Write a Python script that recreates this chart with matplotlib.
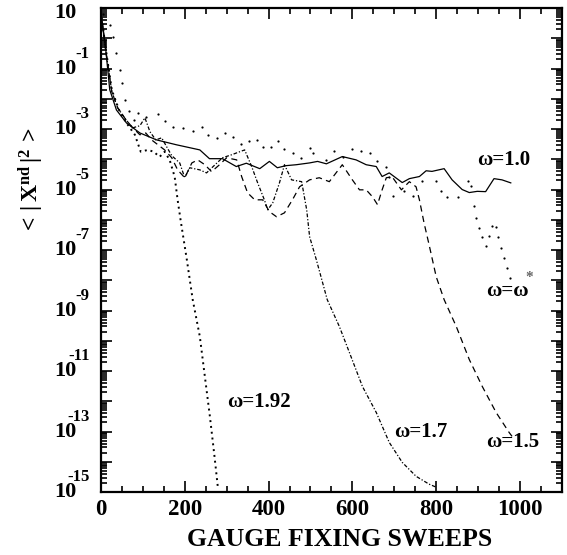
import numpy as np
import matplotlib
matplotlib.use("Agg")
import matplotlib.pyplot as plt
import matplotlib.transforms as mtransforms
from matplotlib.ticker import LogLocator, MultipleLocator, FuncFormatter, NullFormatter

plt.rcParams['font.family'] = ['Liberation Serif', 'DejaVu Serif']
plt.rcParams['font.weight'] = 'bold'
plt.rcParams['mathtext.fontset'] = 'custom'
plt.rcParams['mathtext.rm'] = 'Liberation Serif:bold'
plt.rcParams['mathtext.bf'] = 'Liberation Serif:bold'
plt.rcParams['mathtext.it'] = 'Liberation Serif:bold:italic'

# omega = 1.0 (solid), log10 of <|X^nd|^2>
x_10 = [0, 2, 10, 21, 37, 61, 93, 133, 180, 236, 259, 290, 323, 347, 379, 402, 421,
        442, 466, 498, 517, 538, 576, 609, 633, 657, 671, 688, 719, 736, 760, 776,
        790, 819, 838, 862, 879, 898, 918, 938, 957, 978]
lg_10 = [0.8, 0.6, -0.16, -1.7, -2.37, -2.8, -3.13, -3.36, -3.52, -3.69, -3.98, -3.98,
         -4.24, -4.13, -4.31, -4.07, -4.28, -4.21, -4.18, -4.12, -4.07, -4.15, -3.91,
         -4.02, -4.18, -4.24, -4.57, -4.45, -4.77, -4.64, -4.57, -4.38, -4.40, -4.31,
         -4.68, -5.0, -5.1, -5.06, -5.07, -4.64, -4.68, -4.78]

# omega = 1.5 (dashed)
x_15 = [0, 12, 26, 40, 60, 76, 93, 107, 121, 136, 152, 169, 183, 200, 217, 231, 248,
        264, 283, 300, 324, 336, 350, 367, 386, 402, 419, 438, 457, 474, 498, 521,
        545, 576, 600, 617, 633, 648, 660, 671, 681, 695, 717, 736, 752, 760, 771,
        783, 800, 819, 848, 879, 910, 943, 974, 981]
lg_15 = [0.87, -0.45, -1.77, -2.30, -2.70, -2.96, -3.19, -3.13, -3.36, -3.52, -3.69,
         -3.95, -4.35, -4.61, -4.12, -4.02, -4.18, -4.41, -4.18, -3.95, -4.02, -4.58,
         -5.11, -5.34, -5.34, -5.73, -5.90, -5.77, -5.34, -4.91, -4.68, -4.61, -4.74,
         -4.18, -4.68, -5.01, -5.01, -5.24, -5.50, -5.01, -4.61, -4.58, -5.01, -4.74,
         -4.91, -5.34, -6.10, -6.82, -7.88, -8.64, -9.53, -10.62, -11.51, -12.37,
         -13.03, -13.16]

# omega = 1.7 (dash-dot)
x_17 = [0, 12, 26, 40, 60, 76, 93, 105, 117, 131, 145, 157, 169, 188, 200, 212, 236,
        252, 267, 290, 312, 343, 360, 374, 390, 398, 410, 426, 438, 455, 479, 491,
        498, 514, 529, 540, 569, 593, 624, 657, 688, 719, 752, 783, 800]
lg_17 = [0.87, -0.45, -1.77, -2.30, -2.70, -2.96, -2.89, -2.63, -3.09, -3.36, -3.29,
         -3.59, -3.88, -4.12, -4.61, -4.28, -4.35, -4.45, -4.25, -3.95, -3.85, -3.69,
         -4.25, -4.78, -5.34, -5.67, -5.44, -4.78, -4.18, -4.68, -4.74, -5.67, -6.56,
         -7.32, -8.08, -8.64, -9.53, -10.39, -11.51, -12.37, -13.36, -14.02, -14.48,
         -14.74, -14.84]

# omega = 1.92 (dotted)
x_192 = [0, 12, 26, 45, 64, 81, 95, 112, 126, 140, 152, 164, 176, 183, 190, 205, 219,
         236, 248, 260, 271, 279]
lg_192 = [0.87, -0.39, -1.71, -2.43, -2.86, -3.19, -3.75, -3.69, -3.75, -3.92, -3.75,
          -4.02, -4.58, -5.34, -6.0, -7.32, -8.64, -9.86, -11.18, -12.50, -13.82, -14.84]

# omega = omega* (separate points)
x_st = [5, 21, 29, 36, 45, 51, 58, 68, 80, 89, 108, 136, 152, 172, 196, 220, 240, 256,
        276, 295, 315, 335, 353, 372, 386, 406, 422, 436, 458, 478, 498, 507, 537,
        557, 577, 598, 621, 642, 658, 680, 688, 696, 724, 744, 767, 799, 811, 827,
        851, 875, 883, 891, 895, 902, 910, 918, 926, 934, 942, 948, 954, 962, 970, 976]
lg_st = [0.8, 0.44, 0.05, -0.50, -1.05, -1.49, -2.04, -2.42, -2.70, -2.48, -2.59,
         -2.51, -2.75, -2.92, -2.97, -3.08, -2.92, -3.19, -3.30, -3.12, -3.25, -3.49,
         -3.38, -3.36, -3.60, -3.60, -3.38, -3.66, -3.80, -3.96, -3.63, -3.80, -4.02,
         -3.72, -3.93, -3.66, -3.74, -3.80, -4.07, -4.24, -4.57, -5.23, -5.06, -5.23,
         -4.73, -4.73, -5.06, -5.25, -5.25, -4.73, -4.87, -5.56, -5.94, -6.27, -6.58,
         -6.88, -6.55, -6.22, -6.24, -6.57, -6.93, -7.26, -7.59, -7.92]

# labelled decades on the y axis
y_label_exp = [1, -1, -3, -5, -7, -9, -11, -13, -15]

fig = plt.figure(figsize=(5.67, 5.55), dpi=100)
ax = fig.add_axes([0.178, 0.1135, 0.813, 0.872])

ax.plot(x_10, 10.0**np.array(lg_10), '-', color='k', lw=0.9)
ax.plot(x_15, 10.0**np.array(lg_15), color='k', lw=0.9, dashes=(5, 3.5))
ax.plot(x_17, 10.0**np.array(lg_17), color='k', lw=0.9, dashes=(3, 1.5, 1, 1.5))
ax.plot(x_192, 10.0**np.array(lg_192), color='k', lw=1.4, dashes=(1, 2))
ax.plot(x_st, 10.0**np.array(lg_st), 'o', color='k', ms=1.6, mew=0)

ax.set_yscale('log')
ax.set_xlim(0, 1100)
ax.set_ylim(1e-15, 1e1)

ax.xaxis.set_major_locator(MultipleLocator(200))
ax.xaxis.set_minor_locator(MultipleLocator(50))
ax.yaxis.set_major_locator(LogLocator(base=10, numticks=40))
ax.yaxis.set_minor_locator(LogLocator(base=10, subs=np.arange(2, 10), numticks=40))
ax.yaxis.set_major_formatter(NullFormatter())
ax.yaxis.set_minor_formatter(NullFormatter())
ax.xaxis.set_major_formatter(FuncFormatter(lambda v, p: '%d' % v))

# y tick labels drawn as "10" plus a raised exponent, old-style
trans = ax.get_yaxis_transform()
up = mtransforms.offset_copy(trans, fig=fig, x=0, y=15, units='dots')
top = mtransforms.offset_copy(trans, fig=fig, x=0, y=5, units='dots')
for e in y_label_exp:
    if e == 1:
        ax.text(-0.052, 10.0**e, '10', transform=top, ha='right', va='top',
                fontsize=16, fontweight='bold', clip_on=False)
        continue
    ax.text(-0.052, 10.0**e, '10', transform=trans, ha='right', va='center',
            fontsize=16, fontweight='bold', clip_on=False)
    ax.text(-0.024, 10.0**e, '%d' % e, transform=up, ha='right', va='center',
            fontsize=12, fontweight='bold', clip_on=False)

ax.tick_params(which='both', direction='in', top=True, right=True, width=1.2)
ax.tick_params(which='major', length=8)
ax.tick_params(which='minor', length=4)
ax.tick_params(axis='x', which='major', labelsize=16.5, pad=5)
for s in ax.spines.values():
    s.set_linewidth(1.6)

ax.set_xlabel('GAUGE FIXING SWEEPS', fontsize=18.5, fontweight='bold')
ax.xaxis.set_label_coords(0.517, -0.074)
ax.set_ylabel(r'$\mathbf{<\,|\,X^{nd}\,|^{2}\,>}$', fontsize=17)
ax.yaxis.set_label_coords(-0.12, 0.643)

ax.text(898, 10**-4.02, 'ω=1.0', fontsize=15, fontweight='bold', va='center')
ax.text(919, 10**-8.37, 'ω=ω', fontsize=15, fontweight='bold', va='center')
ax.text(1012, 10**-7.9, '*', fontsize=11, color='0.4', va='center')
ax.text(302, 10**-12.04, 'ω=1.92', fontsize=15, fontweight='bold', va='center')
ax.text(700, 10**-13.03, 'ω=1.7', fontsize=15, fontweight='bold', va='center')
ax.text(919, 10**-13.36, 'ω=1.5', fontsize=15, fontweight='bold', va='center')

fig.savefig('out.png', dpi=100)
